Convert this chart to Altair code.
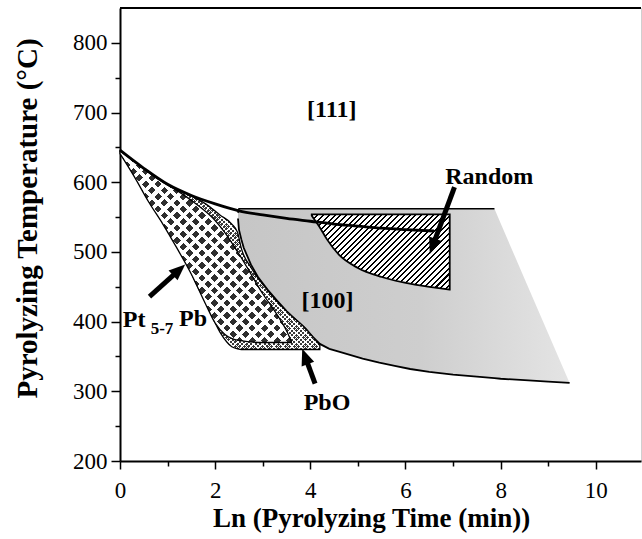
import math
import altair as alt
import pandas as pd

# ---------------- values ----------------
x_tick_values = [0, 1, 2, 3, 4, 5, 6, 7, 8, 9, 10]
y_tick_values = [200, 250, 300, 350, 400, 450, 500, 550, 600, 650, 700, 750, 800]

# thick boundary line (upper limit of the non-[111] phases)
boundary_x = [0, 0.5, 1.0, 1.5, 2.0, 2.5, 3.0, 3.5, 4.0, 4.5, 5.0, 5.5, 6.0, 6.6]
boundary_t = [646, 620, 597, 581, 569, 559, 553, 548, 544, 540, 537, 534, 532, 530]

# Pt5-7Pb region (diamond pattern)
pt_x = [0, 0.3, 0.6, 0.9, 1.2, 1.5, 1.8, 2.0, 2.2, 2.5, 3.0, 3.3, 3.5, 3.6]
pt_top = [645, 630, 614, 600, 588, 574, 558, 545, 528, 497, 440, 410, 387, 372]
pt_bottom = [641, 608, 572, 540, 505, 468, 425, 398, 382, 373, 370, 370, 370, 370]

# PbO band (fine pattern)
pbo_x = [1.0, 1.5, 1.8, 2.1, 2.35, 2.47, 2.55, 2.75, 3.1, 3.5, 3.9, 4.2]
pbo_top = [596, 580, 569, 553, 540, 528, 505, 478, 445, 415, 390, 366]
pbo_bottom = [596, 470, 428, 385, 364, 361, 360, 360, 360, 360, 360, 360]

# [100] region (grey stipple)
r100_x = [2.48, 2.5, 2.55, 2.6, 2.75, 2.9, 3.1, 3.3, 3.5, 3.7, 3.9, 4.05, 4.2, 4.4, 4.6,
          4.85, 5.1, 5.45, 5.8, 6.1, 6.5, 7.0, 7.5, 7.87, 8.0, 8.5, 9.0, 9.45]
r100_top = [556, 562, 562, 562, 562, 562, 562, 562, 562, 562, 562, 562, 562, 562, 562,
            562, 562, 562, 562, 562, 562, 562, 562, 562, 541, 462, 383, 312]
r100_bottom = [548, 532, 518, 506, 482, 464, 446, 430, 415, 402, 390, 378, 368, 361, 357,
               352, 347, 341, 336, 332, 328, 324, 321, 319, 318, 316, 314, 312]
r100_flat_end = 7.87

# Random region (hatched)
rnd_x = [4.03, 4.1, 4.2, 4.35, 4.6, 5.0, 5.5, 6.2, 6.93]
rnd_top = [554, 554, 554, 554, 554, 554, 554, 554, 554]
rnd_bottom = [552, 545, 535, 518, 496, 477, 464, 453, 446]

# arrows: tail -> neck (end of shaft) -> tip
arrow_tail_x = [7.03, 0.62, 4.10]
arrow_tail_t = [593, 436, 311]
arrow_neck_x = [6.58, 1.21, 3.90]
arrow_neck_t = [510, 472, 348]
arrow_tip_x = [6.51, 1.37, 3.83]
arrow_tip_t = [497, 482, 361]

# labels
label_text = ["[111]", "Random", "[100]", "PbO"]
label_x = [4.45, 7.76, 4.36, 4.35]
label_t = [704, 608, 429, 283]
pt_label_text = ["Pt", "5-7", "Pb"]
pt_label_x = [0.06, 0.645, 1.24]
pt_label_t = [403, 390, 404]

# ---------------- layout / style ----------------
SERIF = "Liberation Serif"
W, H = 521, 453
X_DOMAIN = [0, 10.95]
Y_DOMAIN = [200, 850]
PX_X = W / (X_DOMAIN[1] - X_DOMAIN[0])
PX_T = H / (Y_DOMAIN[1] - Y_DOMAIN[0])

xscale = alt.Scale(domain=X_DOMAIN, nice=False, zero=False)
yscale = alt.Scale(domain=Y_DOMAIN, nice=False, zero=False)

xaxis = alt.Axis(
    values=x_tick_values, title="Ln (Pyrolyzing Time (min))",
    labelExpr="datum.value % 2 === 0 ? datum.label : ''",
    grid=False, domainColor="black", domainWidth=2,
    tickColor="black", tickWidth=1.5,
    tickSize={"condition": {"test": "datum.value % 2 === 0", "value": 8}, "value": 5},
    labelFont=SERIF, labelFontSize=23, labelColor="black", labelPadding=10,
    labelFlush=False, labelOverlap=False,
    titleFont=SERIF, titleFontSize=27, titleFontWeight="bold", titleColor="black",
    titleX=251, titleY=57, titleAlign="center", titleBaseline="middle", titleAngle=0,
)
yaxis = alt.Axis(
    values=y_tick_values, title="Pyrolyzing Temperature (°C)",
    labelExpr="datum.value % 100 === 0 ? datum.label : ''",
    grid=False, domainColor="black", domainWidth=2,
    tickColor="black", tickWidth=1.5,
    tickSize={"condition": {"test": "datum.value % 100 === 0", "value": 9}, "value": 5},
    labelFont=SERIF, labelFontSize=23, labelColor="black", labelPadding=4,
    labelFlush=False, labelOverlap=False,
    titleFont=SERIF, titleFontSize=29, titleFontWeight="bold", titleColor="black",
    titleX=-93, titleY=210, titleAlign="center", titleBaseline="middle", titleAngle=270,
)


def X(f):
    return alt.X(f"{f}:Q", scale=xscale, axis=xaxis)


def Y(f):
    return alt.Y(f"{f}:Q", scale=yscale, axis=yaxis)


def stripe_fill(xs, lo, hi, period_px, on_frac, on_color, off_color, direction):
    w = (max(xs) - min(xs)) * PX_X
    h = (max(hi) - min(lo)) * PX_T
    r = h / w
    k = (1 + r) / (1 + r * r)
    n = max(1, round((w + h) / period_px))
    if direction == "/":
        x1, y1, x2, y2 = 0, 0, k, k * r
    else:
        x1, y1, x2, y2 = 0, 1, k, 1 - k * r
    stops = []
    for i in range(n):
        a, b, c = i / n, (i + on_frac) / n, (i + 1) / n
        stops += [
            alt.GradientStop(color=on_color, offset=a),
            alt.GradientStop(color=on_color, offset=b),
            alt.GradientStop(color=off_color, offset=b),
            alt.GradientStop(color=off_color, offset=c),
        ]
    return alt.LinearGradient(gradient="linear", stops=stops, x1=x1, y1=y1, x2=x2, y2=y2)


CLEAR = "rgba(255,255,255,0)"

df_boundary = pd.DataFrame({"x": boundary_x, "t": boundary_t})
df_pt = pd.DataFrame({"x": pt_x, "top": pt_top, "bottom": pt_bottom})
df_pbo = pd.DataFrame({"x": pbo_x, "top": pbo_top, "bottom": pbo_bottom})
df_100 = pd.DataFrame({"x": r100_x, "top": r100_top, "bottom": r100_bottom})
df_rnd = pd.DataFrame({"x": rnd_x, "top": rnd_top, "bottom": rnd_bottom})

angles = []
for tx, tt, px, pt in zip(arrow_tail_x, arrow_tail_t, arrow_tip_x, arrow_tip_t):
    sx = (px - tx) * PX_X
    sy = -(pt - tt) * PX_T
    angles.append(math.degrees(math.atan2(sx, -sy)) % 360)
df_arrow = pd.DataFrame({
    "tx": arrow_tail_x, "tt": arrow_tail_t,
    "nx": arrow_neck_x, "nt": arrow_neck_t,
    "px": arrow_tip_x, "pt": arrow_tip_t, "angle": angles,
})
df_labels = pd.DataFrame({"x": label_x, "t": label_t, "label": label_text})
df_pt_label = pd.DataFrame({"x": pt_label_x, "t": pt_label_t, "label": pt_label_text})


def region(df, fill, interp="monotone", **kw):
    return alt.Chart(df).mark_area(interpolate=interp, fill=fill, opacity=1,
                                   orient="vertical", **kw).encode(
        x=X("x"), y=Y("top"), y2=alt.Y2("bottom"))


def outline(df, width):
    return alt.Chart(df).mark_area(interpolate="monotone", fillOpacity=0, stroke="black",
                                   orient="vertical", strokeWidth=width).encode(
        x=X("x"), y=Y("top"), y2=alt.Y2("bottom"))


# [100] grey region
grey = alt.LinearGradient(gradient="linear", x1=0, y1=0, x2=1, y2=0, stops=[
    alt.GradientStop(color="#c6c6c6", offset=0),
    alt.GradientStop(color="#cecece", offset=0.55),
    alt.GradientStop(color="#e4e4e4", offset=1),
])
l100 = region(df_100, grey, interp="linear")
l100_bottom = alt.Chart(df_100).mark_line(interpolate="linear", color="black", strokeWidth=1.8).encode(
    x=X("x"), y=Y("bottom"), order=alt.Order("x:Q"))
l100_top = alt.Chart(df_100).transform_filter(f"datum.x <= {r100_flat_end}").mark_line(
    interpolate="linear", color="black", strokeWidth=1.5).encode(
    x=X("x"), y=Y("top"), order=alt.Order("x:Q"))

# PbO band: fine checker pattern
pbo_layers = [
    region(df_pbo, "#3a3a3a"),
    region(df_pbo, stripe_fill(pbo_x, pbo_bottom, pbo_top, 4.5, 0.32, "white", CLEAR, "/")),
    region(df_pbo, stripe_fill(pbo_x, pbo_bottom, pbo_top, 4.5, 0.32, "white", CLEAR, "\\")),
    outline(df_pbo, 1.3),
]

# Pt5-7Pb: diamond pattern
pt_layers = [
    region(df_pt, "#2e2e2e"),
    region(df_pt, stripe_fill(pt_x, pt_bottom, pt_top, 12.7, 0.42, "white", CLEAR, "/")),
    region(df_pt, stripe_fill(pt_x, pt_bottom, pt_top, 12.7, 0.42, "white", CLEAR, "\\")),
    outline(df_pt, 1.3),
]

# Random: diagonal hatch
rnd_layer = region(df_rnd, stripe_fill(rnd_x, rnd_bottom, rnd_top, 5.7, 0.35, "black", "white", "/"),
                   stroke="black", strokeWidth=1.8)

boundary = alt.Chart(df_boundary).mark_line(interpolate="monotone", color="black", strokeWidth=2.8).encode(
    x=X("x"), y=Y("t"), order=alt.Order("x:Q"))

shafts = alt.Chart(df_arrow).mark_rule(color="black", strokeWidth=5).encode(
    x=X("tx"), y=Y("tt"), x2="nx", y2="nt")
heads = alt.Chart(df_arrow).mark_point(
    shape="M0,0L0.9,2.2L-0.9,2.2Z", filled=True, size=220, color="black", opacity=1).encode(
    x=X("px"), y=Y("pt"), angle=alt.Angle("angle:Q", scale=None))

labels = alt.Chart(df_labels).mark_text(
    font=SERIF, fontWeight="bold", fontSize=24, color="black", align="center", baseline="middle").encode(
    x=X("x"), y=Y("t"), text="label:N")

pt_big = alt.Chart(df_pt_label).transform_filter("datum.label !== '5-7'").mark_text(
    font=SERIF, fontWeight="bold", fontSize=24, color="black", align="left", baseline="middle").encode(
    x=X("x"), y=Y("t"), text="label:N")
pt_sub = alt.Chart(df_pt_label).transform_filter("datum.label === '5-7'").mark_text(
    font=SERIF, fontWeight="bold", fontSize=17, color="black", align="left", baseline="middle").encode(
    x=X("x"), y=Y("t"), text="label:N")

top_border = alt.Chart(df_boundary).mark_rule(color="black", strokeWidth=2).encode(
    x=alt.value(0), x2=alt.value(W), y=alt.value(0))

chart = alt.layer(
    l100, l100_top, l100_bottom,
    *pbo_layers, *pt_layers,
    rnd_layer, boundary, shafts, heads, labels, pt_big, pt_sub, top_border,
).properties(
    width=W, height=H,
    autosize=alt.AutoSizeParams(type="none"),
    padding={"left": 120, "top": 8, "right": 1, "bottom": 78},
).configure_view(stroke="#cfcfcf", strokeWidth=1)

chart.save("out.html", embed_options={"renderer": "svg", "actions": False})
